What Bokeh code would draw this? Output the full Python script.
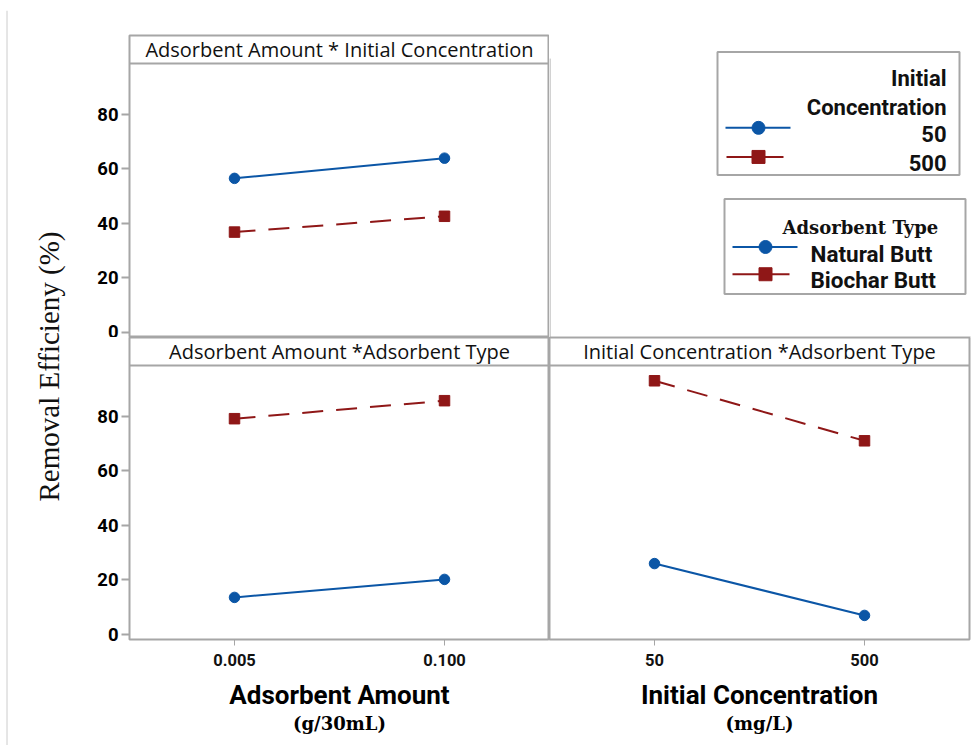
import math
from bokeh.plotting import figure
from bokeh.layouts import row, column
from bokeh.models import (FactorRange, Range1d, FixedTicker, CategoricalAxis, LinearAxis,
                          Label, Span, ColumnDataSource)
from bokeh.core.properties import value
from bokeh.embed import file_html
from bokeh.resources import INLINE

# ---------------- data ----------------
amount_levels = ["0.005", "0.100"]          # Adsorbent Amount (g/30mL)
conc_levels = ["50", "500"]                 # Initial Concentration (mg/L)

# Panel: Adsorbent Amount * Initial Concentration
amt_conc50 = [56.5, 63.9]
amt_conc500 = [36.8, 42.6]
# Panel: Adsorbent Amount * Adsorbent Type
amt_natural = [13.6, 20.2]
amt_biochar = [79.1, 85.7]
# Panel: Initial Concentration * Adsorbent Type
conc_natural = [26.0, 7.0]
conc_biochar = [93.0, 71.0]

y_ticks = [0, 20, 40, 60, 80]

strip_titles = ["Adsorbent Amount * Initial Concentration",
                "Adsorbent Amount *Adsorbent Type",
                "Initial Concentration *Adsorbent Type"]
y_title = "Removal Efficieny (%)"
x_titles = ["Adsorbent Amount", "Initial Concentration"]
x_units = ["(g/30mL)", "(mg/L)"]
conc_legend_title = ["Initial", "Concentration"]
conc_legend_labels = ["50", "500"]
type_legend_title = "Adsorbent Type"
type_legend_labels = ["Natural Butt", "Biochar Butt"]

# ---------------- style ----------------
BLUE = "#0b56a6"
RED = "#8f1717"
GRAY = "#a6a6a6"
EDGE = "#cccccc"
DASH = "21 13"
Y_LO, Y_HI = -1.83, 98.6
PLOT_H = 274
STRIP_H = 28
Y_TOP = Y_HI + STRIP_H * (Y_HI - Y_LO) / PLOT_H
SANS = "Roboto"


def blank(fig):
    fig.min_border_left = fig.min_border_right = 0
    fig.min_border_top = fig.min_border_bottom = 0
    fig.xgrid.visible = False
    fig.ygrid.visible = False
    fig.outline_line_color = None
    return fig


def style_left_axis(ax):
    ax.axis_line_color = None
    ax.major_tick_line_color = GRAY
    ax.major_tick_line_width = 2
    ax.major_tick_out = 8
    ax.major_tick_in = 0
    ax.minor_tick_line_color = None
    ax.major_label_standoff = 3
    ax.major_label_text_font = SANS
    ax.major_label_text_font_style = "bold"
    ax.major_label_text_font_size = "18.5px"
    ax.major_label_text_color = "black"


def add_bottom_axes(p, label, unit):
    ax = CategoricalAxis(axis_label=label)
    ax.axis_line_color = None
    ax.major_tick_line_color = GRAY
    ax.major_tick_line_width = 1
    ax.major_tick_out = 6
    ax.major_tick_in = 0
    ax.minor_tick_line_color = None
    ax.major_label_standoff = 8
    ax.major_label_text_font = SANS
    ax.major_label_text_font_style = "bold"
    ax.major_label_text_font_size = "16.5px"
    ax.major_label_text_color = "#111111"
    ax.axis_label_text_font = SANS
    ax.axis_label_text_font_style = "bold"
    ax.axis_label_text_font_size = "26px"
    ax.axis_label_text_color = "black"
    ax.axis_label_standoff = 11
    p.add_layout(ax, "below")
    # second axis below carries only the unit line, no ticks at all
    u = CategoricalAxis(ticker=FixedTicker(ticks=[]), axis_label=unit)
    u.axis_line_color = None
    u.major_tick_line_color = None
    u.minor_tick_line_color = None
    u.major_tick_out = 0
    u.major_tick_in = 0
    u.minor_tick_out = 0
    u.major_label_standoff = 0
    u.axis_label_standoff = 0
    u.axis_label_text_font = "DejaVu Serif"
    u.axis_label_text_font_style = "bold"
    u.axis_label_text_font_size = "18px"
    u.axis_label_text_color = "black"
    p.add_layout(u, "below")


def make_panel(levels, series, strip, width, height, mb_left, mb_right, mb_top, mb_bottom,
               yaxis=False, xlabel=None, xunit=None):
    p = figure(width=width, height=height, x_range=FactorRange(factors=levels),
               y_range=Range1d(Y_LO, Y_TOP), output_backend="svg", toolbar_location=None,
               tools="", x_axis_location=None, y_axis_location=None,
               min_border_left=mb_left, min_border_right=mb_right,
               min_border_top=mb_top, min_border_bottom=mb_bottom)
    p.xgrid.visible = False
    p.ygrid.visible = False
    p.outline_line_color = GRAY
    p.outline_line_width = 2
    p.background_fill_color = "white"
    p.border_fill_color = "white"
    if yaxis:
        ax = LinearAxis(ticker=FixedTicker(ticks=y_ticks))
        style_left_axis(ax)
        p.add_layout(ax, "left")
    if xlabel is not None:
        add_bottom_axes(p, xlabel, xunit)
    for vals, color, marker, dash, size in series:
        src = ColumnDataSource(dict(x=levels, y=vals))
        p.line("x", "y", source=src, line_color=color, line_width=2, line_dash=dash)
        p.scatter("x", "y", source=src, marker=marker, size=size,
                  fill_color=color, line_color=color)
    p.add_layout(Span(location=Y_HI, dimension="width", line_color=GRAY, line_width=2))
    p.add_layout(Label(x=1.0, y=(Y_HI + Y_TOP) / 2, text=strip, text_align="center",
                       text_baseline="middle", text_font="Open Sans",
                       text_font_size="20px", text_color="#111111"))
    return p


blue_series = dict(color=BLUE, marker="circle", dash="solid", size=10.5)
red_series = dict(color=RED, marker="square", dash=DASH, size=10.5)


def s(vals, st):
    return (vals, st["color"], st["marker"], st["dash"], st["size"])


# page layout: border strip 0-10, top row 10-337, bottom row 337-745
tl = make_panel(amount_levels, [s(amt_conc50, blue_series), s(amt_conc500, red_series)],
                strip_titles[0], 481, 327, 61, 0, 25, 0, yaxis=True)
bl = make_panel(amount_levels, [s(amt_natural, blue_series), s(amt_biochar, red_series)],
                strip_titles[1], 481, 408, 61, 0, 0, 106, yaxis=True,
                xlabel=x_titles[0], xunit=x_units[0])
br = make_panel(conc_levels, [s(conc_natural, blue_series), s(conc_biochar, red_series)],
                strip_titles[2], 423, 408, 0, 3, 0, 106,
                xlabel=x_titles[1], xunit=x_units[1])

# thin top strip carrying the outer frame line
top = blank(figure(width=972, height=10, x_range=Range1d(0, 972), y_range=Range1d(10, 0),
                   output_backend="svg", toolbar_location=None, tools="",
                   x_axis_location=None, y_axis_location=None, min_border=0))
top.segment(x0=[6], y0=[9.5], x1=[972], y1=[9.5], line_color=EDGE, line_width=1)
top.segment(x0=[6.5], y0=[9], x1=[6.5], y1=[10], line_color=EDGE, line_width=1)

# legend area (ranges in page pixel units for placing the legend boxes)
lg = blank(figure(width=423, height=327, x_range=Range1d(549, 972), y_range=Range1d(337, 10),
                  output_backend="svg", toolbar_location=None, tools="",
                  x_axis_location=None, y_axis_location=None, min_border=0))
lg.segment(x0=[549.5], y0=[35], x1=[549.5], y1=[337], line_color=GRAY, line_width=1)
lg.segment(x0=[549], y0=[336.5], x1=[970], y1=[336.5], line_color=GRAY, line_width=1)

LFONT = value(SANS)
# legend 1 : Initial Concentration
lg.quad(left=[717], right=[959], top=[28], bottom=[161], fill_color="white",
        line_color=GRAY, line_width=2)
lg.text(x=[946, 946], y=[56.5, 87.5], text=conc_legend_title, text_align="right",
        text_baseline="alphabetic", text_font=LFONT, text_font_style="bold",
        text_font_size="22px", text_color="#111111")
lg.text(x=[946, 946], y=[117, 148], text=conc_legend_labels, text_align="right",
        text_baseline="alphabetic", text_font=LFONT, text_font_style="bold",
        text_font_size="22px", text_color="#111111")
lg.segment(x0=[725], y0=[110], x1=[790], y1=[110], line_color=BLUE, line_width=2)
lg.scatter(x=[758], y=[110], marker="circle", size=13, fill_color=BLUE, line_color=BLUE)
lg.segment(x0=[726], y0=[141.5], x1=[783], y1=[141.5], line_color=RED, line_width=2)
lg.scatter(x=[758], y=[141.5], marker="square", size=13, fill_color=RED, line_color=RED)

# legend 2 : Adsorbent Type
lg.quad(left=[724], right=[965], top=[187], bottom=[290], fill_color="white",
        line_color=GRAY, line_width=2)
lg.text(x=[782], y=[218], text=[type_legend_title], text_align="left",
        text_baseline="alphabetic", text_font=value("DejaVu Serif"), text_font_style="bold",
        text_font_size="18px", text_color="#111111")
lg.text(x=[810, 810], y=[246.5, 275], text=type_legend_labels, text_align="left",
        text_baseline="alphabetic", text_font=LFONT, text_font_style="bold",
        text_font_size="22.5px", text_color="#111111")
lg.segment(x0=[732], y0=[239], x1=[797], y1=[239], line_color=BLUE, line_width=2)
lg.scatter(x=[765], y=[239], marker="circle", size=13, fill_color=BLUE, line_color=BLUE)
lg.segment(x0=[732], y0=[268.5], x1=[789], y1=[268.5], line_color=RED, line_width=2)
lg.scatter(x=[765], y=[268.5], marker="square", size=13, fill_color=RED, line_color=RED)

# y title strip on the left
yl = blank(figure(width=68, height=735, x_range=Range1d(0, 68), y_range=Range1d(745, 10),
                  output_backend="svg", toolbar_location=None, tools="",
                  x_axis_location=None, y_axis_location=None, min_border=0))
yl.segment(x0=[6.5], y0=[10], x1=[6.5], y1=[745], line_color=EDGE, line_width=1)
yl.add_layout(Label(x=48, y=366, text=y_title, angle=math.pi / 2, text_align="center",
                    text_baseline="middle", text_font="Liberation Serif",
                    text_font_size="29px", text_color="#111111"))

root = column(top, row(yl, column(row(tl, lg), row(bl, br))))

open("out.html", "w").write(file_html(root, INLINE))
